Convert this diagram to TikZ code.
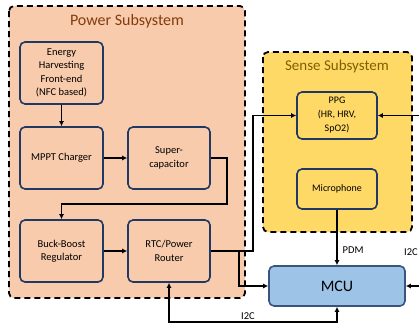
\documentclass[tikz,border=0pt]{standalone}
\usepackage{fontspec}
\setmainfont{Carlito}
\usetikzlibrary{arrows.meta}
\definecolor{peach}{HTML}{F8CBAD}
\definecolor{gold}{HTML}{FFD966}
\definecolor{boxblue}{HTML}{203864}
\definecolor{mcufill}{HTML}{9DC3E6}
\definecolor{ptitle}{HTML}{843C0C}
\definecolor{stitle}{HTML}{7F6000}
\tikzset{
  subsys/.style={draw=black, line width=1.8pt, dash pattern=on 6pt off 4pt, rounded corners=5pt},
  blockbox/.style={draw=boxblue, line width=1.6pt, rounded corners=5pt, align=center,
    inner sep=1pt, font=\fontsize{10.5}{13.3}\selectfont},
  conn/.style={draw=black, line width=1.3pt, -{Latex[length=5pt,width=5pt]}},
  plain/.style={draw=black, line width=1.3pt},
  lbl/.style={font=\fontsize{10.5}{12}\selectfont, inner sep=0pt},
}
\begin{document}
\begin{tikzpicture}[x=1pt,y=-1pt]
\useasboundingbox (0,0) rectangle (419,324);
% subsystems
\draw[subsys, fill=peach] (9,6) rectangle (245,298);
\draw[subsys, fill=gold] (263,52) rectangle (412,232);
\node[font=\fontsize{16}{18}\selectfont, text=ptitle] (ptitle) at (127,21) {Power Subsystem};
\node[font=\fontsize{15}{18}\selectfont, text=stitle] (stitle) at (337,66) {Sense Subsystem};
% power blocks
\node[blockbox, fill=peach, minimum width=83pt, minimum height=62pt] (eh) at (61.5,73) {Energy\\Harvesting\\Front-end\\(NFC based)};
\node[blockbox, fill=peach, minimum width=83pt, minimum height=62pt] (mppt) at (61.5,158) {MPPT Charger};
\node[blockbox, fill=peach, minimum width=82pt, minimum height=62pt] (sc) at (169,158) {Super-\\capacitor};
\node[blockbox, fill=peach, minimum width=83pt, minimum height=62pt] (bb) at (61.5,251) {Buck-Boost\\Regulator};
\node[blockbox, fill=peach, minimum width=82pt, minimum height=62pt] (rtc) at (169,251) {RTC/Power\\Router};
% sense blocks
\node[blockbox, fill=gold, minimum width=80pt, minimum height=47pt, font=\fontsize{10}{14}\selectfont] (ppg) at (337,115.5) {PPG\\(HR, HRV,\\SpO2)};
\node[blockbox, fill=gold, minimum width=80pt, minimum height=40pt, font=\fontsize{10}{12}\selectfont] (mic) at (337,189) {Microphone};
% MCU
\node[blockbox, fill=mcufill, draw=boxblue!80!mcufill, minimum width=136pt, minimum height=40pt, font=\fontsize{16}{18}\selectfont] (mcu) at (337,286) {MCU};
% coordinates
\coordinate (j1) at (227,158);
\coordinate (j2) at (227,204);
\coordinate (j3) at (61.5,204);
\coordinate (r1) at (253,251);
\coordinate (r2) at (239,251);
\coordinate (r3) at (239,286);
\coordinate (ppgin) at (419,115.5);
\coordinate (mcuin) at (419,286);
\coordinate (b1) at (169,322);
\coordinate (b2) at (337,322);
% connectors
\draw[conn] (eh) -- (mppt);
\draw[conn] (mppt) -- (sc);
\draw[conn] (sc.east) -- (j1) -- (j2) -- (j3) -- (bb.north);
\draw[conn] (bb) -- (rtc);
\draw[conn] (rtc.east) -- (r1) |- (ppg.west);
\draw[conn] (r2) -- (r3) -- (mcu.west);
\draw[conn] (ppgin) -- (ppg.east);
\draw[conn] (mcuin) -- (mcu.east);
\draw[conn] (mic) -- node[lbl, right=5pt, pos=0.72] (pdm) {PDM} (mcu);
\draw[conn, {Latex[length=5pt,width=5pt]}-{Latex[length=5pt,width=5pt]}] (rtc.south) -- (b1) -- (b2) -- (mcu.south);
\node[lbl] (i2cb) at (248,316) {I2C};
\node[lbl] (i2cr) at (411,252) {I2C};
\end{tikzpicture}
\end{document}
